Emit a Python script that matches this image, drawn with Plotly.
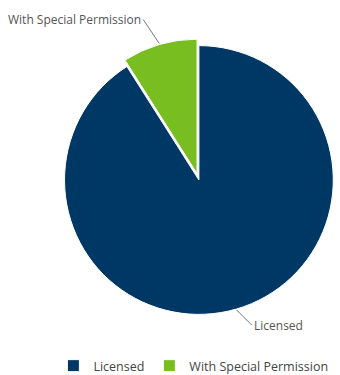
import math
import plotly.graph_objects as go

labels = ["Licensed", "With Special Permission"]
values = [91, 9]
colors = ["#003865", "#78be21"]
pulls = [0, 0.05]

W, H = 340, 375
MB = 40  # bottom margin reserved for the legend
HP = H - MB
dom_x = [0.17, 1.0]
dom_y = [1 - 325 / HP, 1 - 35 / HP]

fig = go.Figure(go.Pie(
    labels=labels, values=values, sort=False, direction="clockwise", rotation=0,
    pull=pulls, textinfo="none", hoverinfo="label+percent",
    marker=dict(colors=colors, line=dict(color="white", width=1)),
    domain=dict(x=dom_x, y=dom_y),
))

# pie geometry (same rule plotly uses) to place outside labels with leaders
wpx = W * (dom_x[1] - dom_x[0])
hpx = HP * (dom_y[1] - dom_y[0])
r = min(wpx, hpx) / 2 / (1 + max(pulls))
cx = W * (dom_x[0] + dom_x[1]) / 2
cy = HP * (1 - dom_y[0]) - hpx / 2

offsets = {"Licensed": (15, 15, "left"), "With Special Permission": (-16, -24, "right")}
total = sum(values)
cum = 0
for lab, v, p in zip(labels, values, pulls):
    mid = (cum + v / 2) / total * 2 * math.pi
    cum += v
    R = r * (1 + p) + 1
    px = cx + R * math.sin(mid)
    py = cy - R * math.cos(mid)
    ax, ay, anc = offsets[lab]
    fig.add_annotation(
        x=px / W, y=1 - py / HP, xref="paper", yref="paper",
        text=lab, showarrow=True, arrowhead=0, arrowwidth=1, arrowcolor="#777",
        ax=ax, ay=ay, xanchor=anc, yanchor="middle", standoff=0,
        font=dict(size=12, color="#555", family="Open Sans"),
    )

fig.update_layout(
    width=W, height=H, margin=dict(l=0, r=0, t=0, b=MB),
    paper_bgcolor="white", plot_bgcolor="white",
    showlegend=True,
    legend=dict(orientation="h", x=0.157, xanchor="left",
                yref="container", y=(H - 351) / H, yanchor="top",
                font=dict(size=12.5, color="#444", family="Open Sans"),
                itemwidth=30, tracegroupgap=0),
    font=dict(family="Open Sans"),
)

fig.write_html("out.html", config={"displayModeBar": False},
               post_script="document.body.style.margin='0';")
